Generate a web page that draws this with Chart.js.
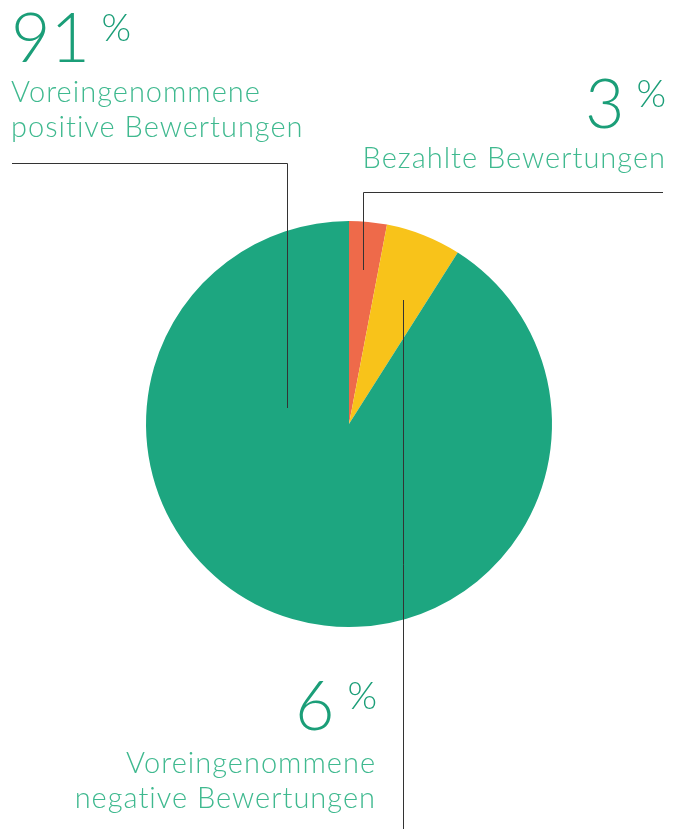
<!DOCTYPE html>
<html><head><meta charset="utf-8">
<script src="https://cdn.jsdelivr.net/npm/chart.js@4/dist/chart.umd.min.js"></script>
<style>html,body{margin:0;padding:0;background:#fff}#wrap{width:683px;height:829px}</style>
</head><body><div id="wrap"><canvas id="c" width="683" height="829"></canvas></div>
<script>
const categories = ["Bezahlte Bewertungen", "Voreingenommene negative Bewertungen", "Voreingenommene positive Bewertungen"];
const values = [3, 6, 91];
const colors = ["#ee6a4a", "#f8c31a", "#1da680"];

const NUM_COLOR = "#1b9e78", LBL_COLOR = "#3fb98f", LINE_COLOR = "#333333";
const FONT = "Lato";

const annot = {
  id: "annot",
  afterDraw(chart) {
    const ctx = chart.ctx;
    ctx.save();
    ctx.strokeStyle = LINE_COLOR; ctx.lineWidth = 1;
    const lines = [
      [[12,163.5],[287.5,163.5],[287.5,408]],
      [[663,192.5],[363.5,192.5],[363.5,270]],
      [[403.5,300],[403.5,829]]
    ];
    lines.forEach(pts => { ctx.beginPath(); ctx.moveTo(pts[0][0],pts[0][1]); for (let i=1;i<pts.length;i++) ctx.lineTo(pts[i][0],pts[i][1]); ctx.stroke(); });
    ctx.textBaseline = "alphabetic";
    function pct(num, xLeft, baseline, xRightPct) {
      ctx.letterSpacing = "0px";
      ctx.fillStyle = NUM_COLOR;
      ctx.font = "300 68px " + FONT;
      ctx.textAlign = "left";
      ctx.fillText(num, xLeft, baseline);
      ctx.font = "300 38px " + FONT;
      ctx.textAlign = "right";
      ctx.fillText("%", xRightPct, baseline - 21);
    }
    function lbl(lines, x, baseline, align) {
      ctx.fillStyle = LBL_COLOR;
      ctx.font = "300 29px " + FONT;
      ctx.letterSpacing = "1px";
      ctx.textAlign = align;
      const xx = align === "right" ? x + 1 : x;
      lines.forEach((t,i) => ctx.fillText(t, xx, baseline + i*35));
    }
    const d = chart.data.datasets[0].data;
    pct(String(d[2]), 11, 62, 131);
    lbl(["Voreingenommene", "positive Bewertungen"], 11, 102, "left");
    pct(String(d[0]), 585, 128, 666);
    lbl(["Bezahlte Bewertungen"], 665, 168, "right");
    pct(String(d[1]), 295, 730, 377);
    lbl(["Voreingenommene", "negative Bewertungen"], 375, 773, "right");
    ctx.restore();
  }
};

new Chart(document.getElementById("c"), {
  type: "pie",
  data: { labels: categories, datasets: [{ data: values, backgroundColor: colors, borderWidth: 0 }] },
  options: {
    responsive: false, animation: false,
    layout: { padding: { left: 146, right: 131, top: 221, bottom: 202 } },
    plugins: { legend: { display: false }, tooltip: { enabled: false } }
  },
  plugins: [annot]
});
</script></body></html>
